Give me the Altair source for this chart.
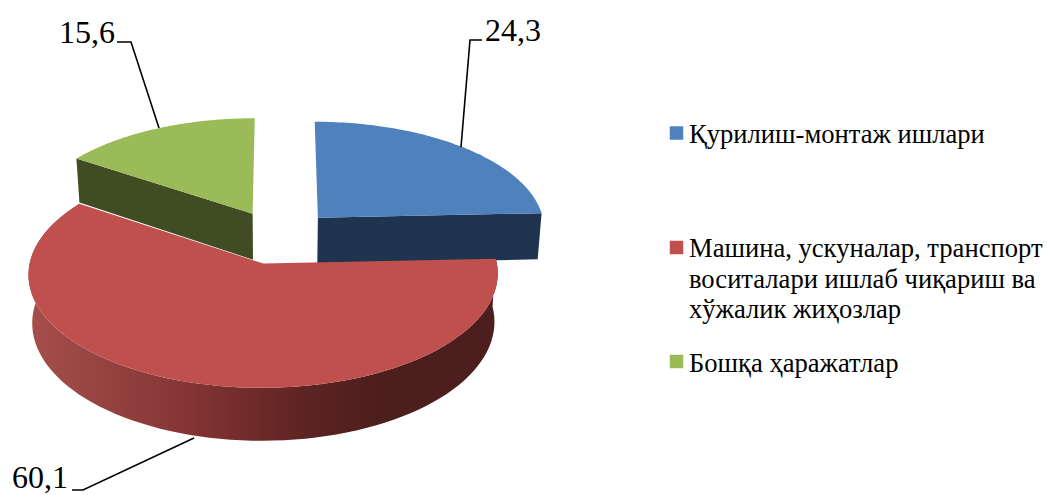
import numpy as np
import pandas as pd
import altair as alt

CATEGORIES = ["Қурилиш-монтаж ишлари", "Машина, ускуналар, транспорт", "Бошқа ҳаражатлар"]
VALUES = [24.3, 60.1, 15.6]
VALUE_LABELS = ["24,3", "60,1", "15,6"]
TOP = ["#4f81bd", "#c0504d", "#9bbb59"]
WALL = ["#1f344f", None, "#404d22"]
LEG_LINES = ["Қурилиш-монтаж ишлари", "Машина, ускуналар, транспорт",
             "воситалари ишлаб чиқариш ва", "хўжалик жиҳозлар", "Бошқа ҳаражатлар"]
LEG_X = [689] * 5
LEG_Y = [143, 257, 288, 318, 372]
SQ_X = [676.5] * 3
SQ_Y = [133, 247.5, 361.5]
LAB_X = [485, 12, 59]
LAB_Y = [41, 488, 43]
LEADERS = [[(482, 40), (470, 40), (461, 147)],
           [(72, 490), (83, 490), (194, 438)],
           [(117, 42), (131, 42), (159, 128)]]

W, H = 1039, 487
CX, CY, A, B, P, E, D, SHR = 279, 237, 228.6, 108, 0.09, 0.25, 47, 0.985
xs = alt.Scale(domain=[8, 8 + W], range=[0, W], nice=False, zero=False)
ys = alt.Scale(domain=[8, 8 + H], range=[0, H], nice=False, zero=False)
X = alt.X("x:Q", scale=xs, axis=None)
Y = alt.Y("y:Q", scale=ys, axis=None)


def proj(U, V, bottom=False):
    s = 1 / (1 - P * V)
    px = CX + A * U * s
    py = CY + B * V * s
    if bottom:
        px = CX + (px - CX) * SHR
        py = py + D * s
    return px, py


def poly(pts, **mk):
    df = pd.DataFrame({"x": [p[0] for p in pts], "y": [p[1] for p in pts], "i": range(len(pts))})
    return alt.Chart(df).mark_line(strokeWidth=0, **mk).encode(x=X, y=Y, order="i:Q")


edges = 2 * np.pi * np.cumsum([0] + VALUES) / sum(VALUES)
slices = []
for k in range(3):
    a0, a1 = edges[k], edges[k + 1]
    mid = (a0 + a1) / 2
    ox, oy = E * np.sin(mid), -E * np.cos(mid)
    th = np.linspace(a0, a1, 90)
    U, V = ox + np.sin(th), oy - np.cos(th)
    slices.append(dict(ox=ox, oy=oy, U=U, V=V))

layers = []
# green: left radial wall + top
g = slices[2]
a = proj(g["U"][0], g["V"][0]); b = proj(g["ox"], g["oy"])
c = proj(g["ox"], g["oy"], True); d = proj(g["U"][0], g["V"][0], True)
layers.append(poly([a, b, c, d], fill=WALL[2]))
tx, ty = proj(g["U"], g["V"])
ax, ay = proj(g["ox"], g["oy"])
layers.append(poly(list(zip(tx, ty)) + [(ax, ay)], fill=TOP[2]))
# blue: wall + top
g = slices[0]
a = proj(g["U"][-1], g["V"][-1]); b = proj(g["ox"], g["oy"])
c = proj(g["ox"], g["oy"], True); d = proj(g["U"][-1], g["V"][-1], True)
layers.append(poly([a, b, c, d], fill=WALL[0]))
tx, ty = proj(g["U"], g["V"])
ax, ay = proj(g["ox"], g["oy"])
layers.append(poly(list(zip(tx, ty)) + [(ax, ay)], fill=TOP[0]))
# red: curved gradient wall + top
g = slices[1]
tx, ty = proj(g["U"], g["V"])
bx, by = proj(g["U"], g["V"], True)
grad = alt.LinearGradient(
    gradient="linear", x1=0, x2=1, y1=0, y2=0,
    stops=[alt.GradientStop(color="#a54f4c", offset=0),
           alt.GradientStop(color="#833433", offset=0.35),
           alt.GradientStop(color="#5e2423", offset=0.58),
           alt.GradientStop(color="#4c1e1d", offset=0.75),
           alt.GradientStop(color="#4c1e1d", offset=1)])
layers.append(poly(list(zip(tx, ty)) + list(zip(bx, by))[::-1], fill=grad))
ax, ay = proj(g["ox"], g["oy"])
layers.append(poly(list(zip(tx, ty)) + [(ax, ay)], fill=TOP[1]))

# leaders
for pts in LEADERS:
    df = pd.DataFrame({"x": [p[0] for p in pts], "y": [p[1] for p in pts], "i": range(3)})
    layers.append(alt.Chart(df).mark_line(color="black", strokeWidth=1.6).encode(x=X, y=Y, order="i:Q"))

# value labels
layers.append(alt.Chart(pd.DataFrame({"x": LAB_X, "y": LAB_Y, "t": VALUE_LABELS})).mark_text(
    font="Liberation Serif", fontSize=32, align="left", baseline="alphabetic", color="black"
).encode(x=X, y=Y, text="t:N"))

# legend
layers.append(alt.Chart(pd.DataFrame({"x": SQ_X, "y": SQ_Y, "c": TOP})).mark_square(size=182, opacity=1).encode(
    x=X, y=Y, fill=alt.Fill("c:N", scale=None), stroke=alt.value(None)))
layers.append(alt.Chart(pd.DataFrame({"x": LEG_X, "y": LEG_Y, "t": LEG_LINES})).mark_text(
    font="Liberation Serif", fontSize=26.6, align="left", baseline="alphabetic", color="black"
).encode(x=X, y=Y, text="t:N"))

chart = alt.layer(*layers).properties(width=W, height=H, padding=0).configure_view(stroke=None)
chart.save("out.html", embed_options={"renderer": "svg", "actions": False,
    "defaultStyle": "body{margin:8px 0 0 8px !important;padding:0} .vega-embed{display:block;width:1039px;height:487px;padding:0 !important}"})
